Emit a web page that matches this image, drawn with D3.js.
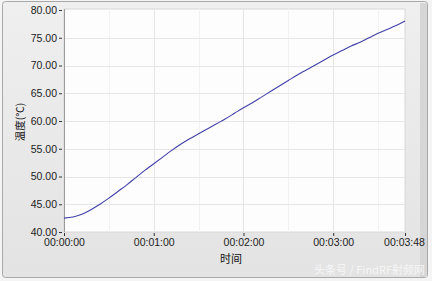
<!DOCTYPE html>
<html>
<head>
<meta charset="utf-8">
<script src="https://cdn.jsdelivr.net/npm/d3@7"></script>
<style>
  body { margin: 0; background: #fff; }
  svg { display: block; font-family: "Liberation Sans", Arial, sans-serif; }
</style>
</head>
<body>
<svg id="chart" width="432" height="281"></svg>
<script>
// time in seconds, temperature in degrees C
var times = [0, 6, 12, 18, 24, 30, 36, 42, 48, 54, 60, 66, 72, 78, 84, 90, 96, 102, 108, 114,
  120, 126, 132, 138, 144, 150, 156, 162, 168, 174, 180, 186, 192, 198, 204, 210, 216, 222, 228];
var temps = [42.5, 42.7, 43.2, 44.0, 45.0, 46.1, 47.3, 48.5, 49.8, 51.1, 52.3, 53.5, 54.7, 55.8, 56.8, 57.7, 58.6, 59.5, 60.4, 61.4,
  62.4, 63.3, 64.3, 65.3, 66.3, 67.3, 68.3, 69.2, 70.1, 71.0, 71.9, 72.7, 73.5, 74.2, 75.0, 75.8, 76.5, 77.2, 78.0];

var xTicks = [0, 60, 120, 180, 228];
var xMinor = [30, 90, 150, 210];
var yTicks = [40, 45, 50, 55, 60, 65, 70, 75, 80];

var svg = d3.select("#chart");

// panel background
var defs = svg.append("defs");
var grad = defs.append("linearGradient").attr("id", "bg").attr("x1", 0).attr("y1", 0).attr("x2", 0).attr("y2", 1);
grad.append("stop").attr("offset", "0%").attr("stop-color", "#efefef");
grad.append("stop").attr("offset", "100%").attr("stop-color", "#e3e3e3");

svg.append("rect").attr("x", 0).attr("y", 0).attr("width", 432).attr("height", 281).attr("fill", "#f4f4f4");
svg.append("rect").attr("x", 2.5).attr("y", 1.5).attr("width", 425).attr("height", 276)
  .attr("rx", 3).attr("fill", "url(#bg)").attr("stroke", "#a9a9a9");
svg.append("rect").attr("x", 420).attr("y", 3).attr("width", 7).attr("height", 274).attr("fill", "#d6d6d6");

var x = d3.scaleLinear().domain([0, 228]).range([64, 405]);
var y = d3.scaleLinear().domain([40, 80]).range([232, 10]);

// plot area
svg.append("rect").attr("x", 64).attr("y", 9).attr("width", 341).attr("height", 223)
  .attr("fill", "#fdfdfd").attr("stroke", "#d8d8d8");

// grid
svg.selectAll(".gxm").data(xMinor).enter().append("line")
  .attr("x1", d => Math.round(x(d)) + 0.5).attr("x2", d => Math.round(x(d)) + 0.5)
  .attr("y1", 9).attr("y2", 232).attr("stroke", "#f2f2f2");
svg.selectAll(".gx").data(xTicks.slice(1, 4)).enter().append("line")
  .attr("x1", d => Math.round(x(d)) + 0.5).attr("x2", d => Math.round(x(d)) + 0.5)
  .attr("y1", 9).attr("y2", 232).attr("stroke", "#e6e6e6");
svg.selectAll(".gy").data(yTicks.slice(1, 8)).enter().append("line")
  .attr("x1", 64).attr("x2", 405)
  .attr("y1", d => Math.round(y(d)) + 0.5).attr("y2", d => Math.round(y(d)) + 0.5)
  .attr("stroke", "#e6e6e6");

// left axis line
svg.append("line").attr("x1", 64.5).attr("x2", 64.5).attr("y1", 9).attr("y2", 232).attr("stroke", "#9a9a9a");

// y axis
var yAxis = d3.axisLeft(y).tickValues(yTicks).tickFormat(d3.format(".2f")).tickSize(3).tickPadding(2);
var gy = svg.append("g").attr("transform", "translate(62,0)").call(yAxis);
gy.select(".domain").remove();
gy.selectAll("line").attr("stroke", "#333");
gy.selectAll("text").attr("font-size", "10.5px").attr("fill", "#222");

// x axis
function fmt(s) {
  var m = Math.floor(s / 60), sec = s % 60;
  return "00:" + d3.format("02d")(m) + ":" + d3.format("02d")(sec);
}
var xAxis = d3.axisBottom(x).tickValues(xTicks).tickFormat(fmt).tickSize(3).tickPadding(3);
var gx = svg.append("g").attr("transform", "translate(0,233)").call(xAxis);
gx.select(".domain").remove();
gx.selectAll("line").attr("stroke", "#333");
gx.selectAll("text").attr("font-size", "10.5px").attr("fill", "#222");
gx.selectAll(".tick").filter(d => d === 228).select("text").attr("dx", "-1");

// line
var line = d3.line().x((d, i) => x(times[i])).y(d => y(d)).curve(d3.curveMonotoneX);
svg.append("path").datum(temps).attr("d", line)
  .attr("fill", "none").attr("stroke", "#4141a8").attr("stroke-width", 1.1);

// axis titles
svg.append("text").attr("transform", "translate(24,122) rotate(-90)")
  .attr("text-anchor", "middle").attr("font-size", "10.5px").attr("fill", "#111")
  .attr("font-family", "Noto Sans CJK SC, sans-serif").text("温度(℃)");
svg.append("text").attr("x", 231).attr("y", 263)
  .attr("text-anchor", "middle").attr("font-size", "11px").attr("fill", "#111")
  .attr("font-family", "Noto Sans CJK SC, sans-serif").text("时间");

// watermark
svg.append("text").attr("x", 425).attr("y", 274)
  .attr("text-anchor", "end").attr("font-size", "11px").attr("fill", "#fafafa").attr("opacity", 0.85)
  .attr("font-family", "Noto Sans CJK SC, sans-serif").text("头条号 / FindRF射频网");
</script>
</body>
</html>
